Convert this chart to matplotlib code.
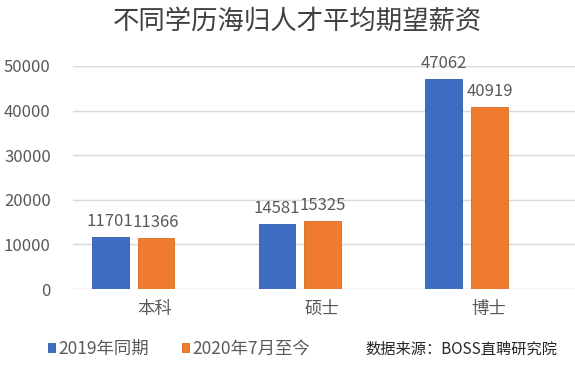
import numpy as np
import matplotlib
matplotlib.use('Agg')
import matplotlib.pyplot as plt

plt.rcParams['font.family'] = ['Noto Sans CJK SC', 'DejaVu Sans']

# data
categories = ['本科', '硕士', '博士']
series_names = ['2019年同期', '2020年7月至今']
values_2019 = [11701, 14581, 47062]
values_2020 = [11366, 15325, 40919]
y_ticks = [0, 10000, 20000, 30000, 40000, 50000]

blue = '#3F6CC3'
orange = '#EE7B2E'
grid_c = '#D9D9D9'
txt_c = '#595959'

fig = plt.figure(figsize=(5.75, 3.67), dpi=100)
fig.patch.set_facecolor('white')
ax = fig.add_axes([73/575, 78/367, 502/575, 223/367])

x = np.arange(len(categories))
w = 0.22
off = 0.137
b1 = ax.bar(x - off, values_2019, w, color=blue, edgecolor='#2F5AA8', linewidth=0.6,
            label=series_names[0], zorder=3)
b2 = ax.bar(x + off, values_2020, w, color=orange, edgecolor='#D86A22', linewidth=0.6,
            label=series_names[1], zorder=3)

for bars, vals in [(b1, values_2019), (b2, values_2020)]:
    for rect, v in zip(bars, vals):
        ax.annotate(str(v), (rect.get_x() + rect.get_width()/2, rect.get_height()),
                    xytext=(0, 5), textcoords='offset points', ha='center', va='bottom',
                    fontsize=12, color=txt_c, annotation_clip=False)

ax.set_xlim(-0.36, 2.65)
ax.set_ylim(0, 50000)
ax.set_yticks(y_ticks)
ax.set_yticklabels([str(t) for t in y_ticks])
ax.set_xticks(x + 0.13)
ax.set_xticklabels(categories)
ax.tick_params(axis='y', length=0, pad=16, labelsize=12, labelcolor=txt_c)
ax.tick_params(axis='x', length=0, pad=8, labelsize=12.5, labelcolor=txt_c)
ax.grid(axis='y', color=grid_c, linewidth=1, zorder=0)
for s in ax.spines.values():
    s.set_visible(False)

fig.text(297/575, 1 - 22/367, '不同学历海归人才平均期望薪资', ha='center', va='center',
         fontsize=19, color='#404040')

leg = fig.legend(handles=[b1, b2], labels=series_names, loc='center left',
                 bbox_to_anchor=(32/575, 1 - 349/367), ncol=2, frameon=False,
                 fontsize=12.5, handlelength=0.45, handleheight=0.45, handletextpad=0.15,
                 columnspacing=1.9, labelcolor=txt_c)
fig.text(557/575, 1 - 349/367, '数据来源：BOSS直聘研究院', ha='right', va='center',
         fontsize=11, color='#262626')

plt.savefig('out.png', dpi=100)
plt.close()
